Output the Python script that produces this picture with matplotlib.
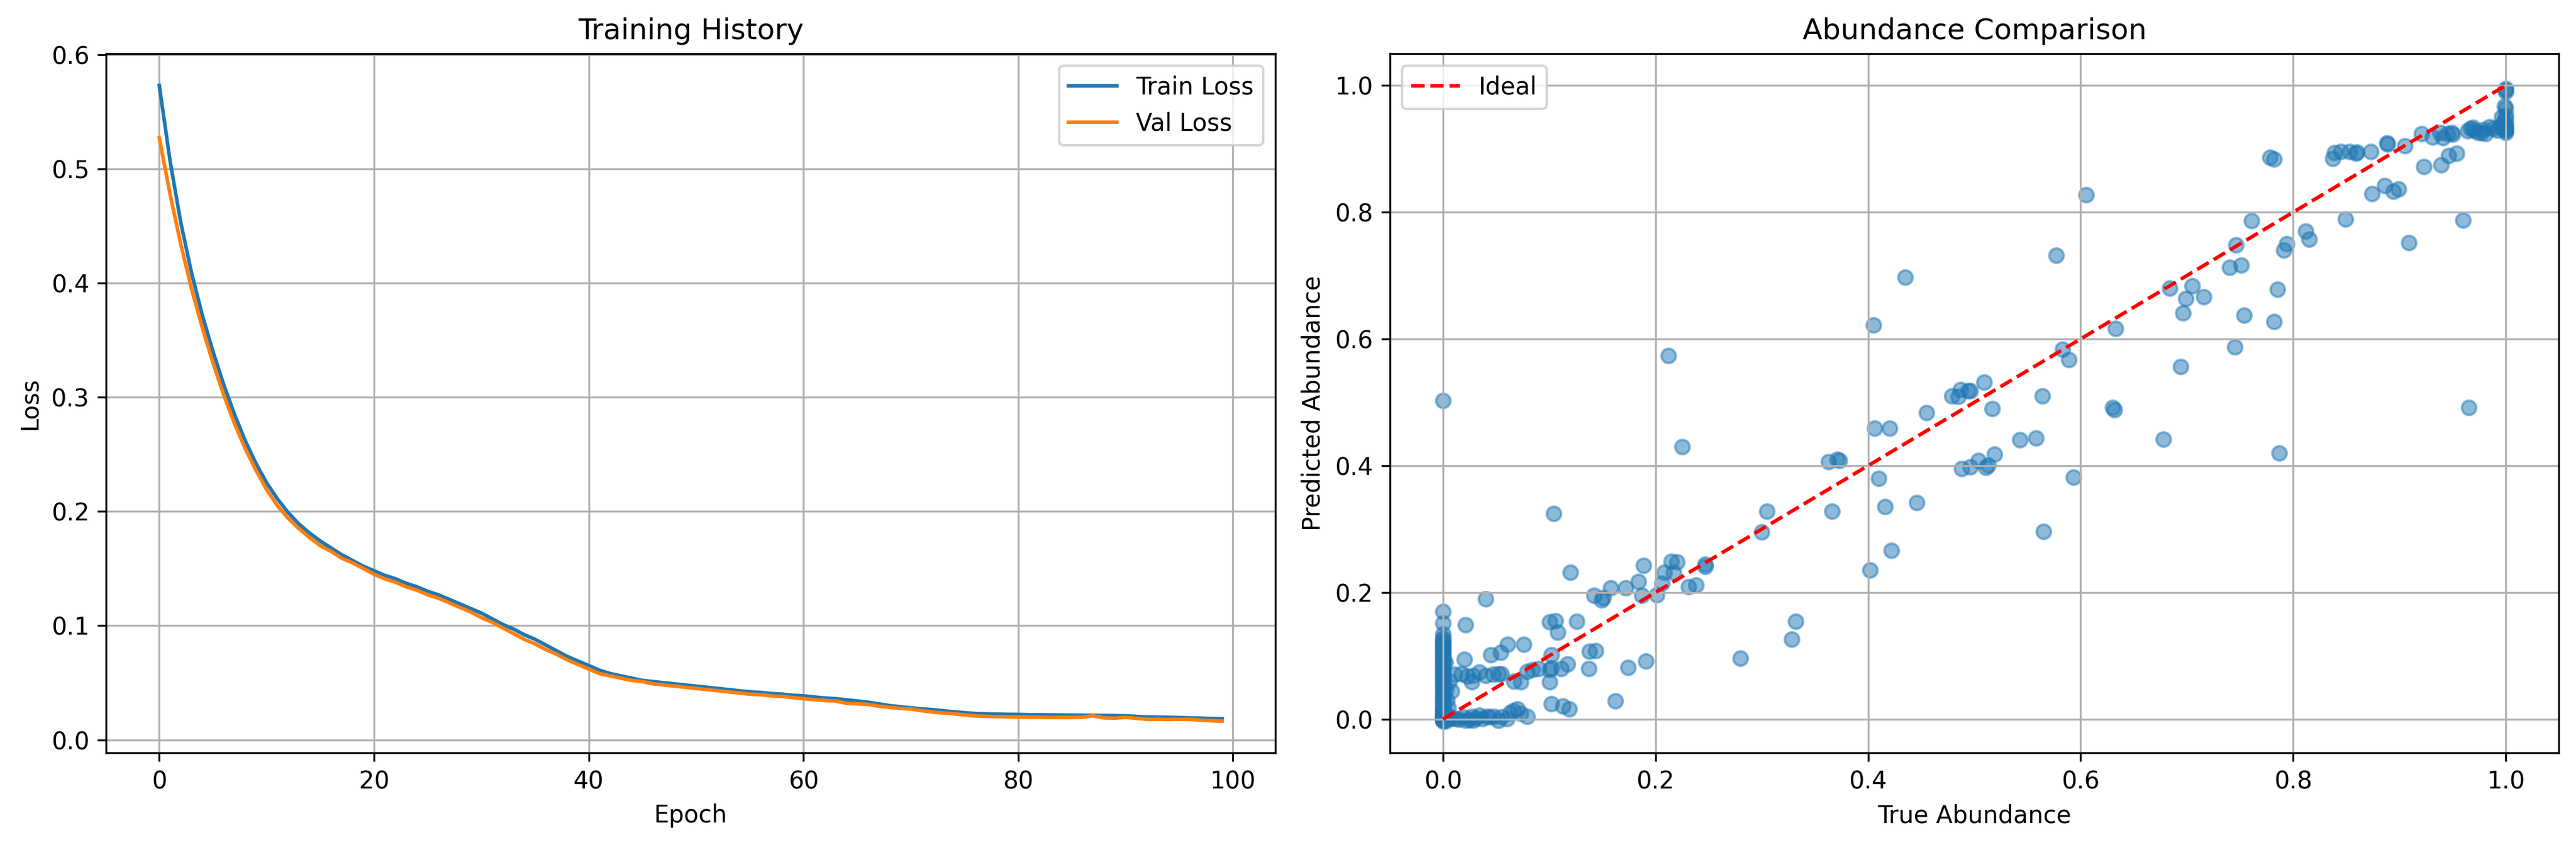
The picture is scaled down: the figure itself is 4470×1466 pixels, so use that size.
import matplotlib
matplotlib.use("Agg")
import matplotlib.pyplot as plt

# loss per epoch
train_loss = [
    0.573, 0.507, 0.453, 0.409, 0.372, 0.340, 0.311, 0.285, 0.262, 0.242,
    0.225, 0.211, 0.199, 0.189, 0.181, 0.174, 0.168, 0.162, 0.157, 0.152,
    0.148, 0.144, 0.141, 0.137, 0.134, 0.130, 0.127, 0.123, 0.119, 0.115,
    0.111, 0.106, 0.101, 0.097, 0.092, 0.088, 0.083, 0.078, 0.073, 0.069,
    0.065, 0.061, 0.058, 0.056, 0.054, 0.052, 0.051, 0.050, 0.049, 0.048,
    0.047, 0.046, 0.045, 0.044, 0.043, 0.042, 0.0415, 0.0405, 0.040, 0.039,
    0.0385, 0.0375, 0.0366, 0.036, 0.035, 0.034, 0.033, 0.0315, 0.030, 0.029,
    0.028, 0.027, 0.0265, 0.0255, 0.0245, 0.0238, 0.023, 0.0227, 0.0225, 0.0223,
    0.0222, 0.022, 0.0219, 0.0218, 0.0217, 0.0216, 0.0215, 0.0214, 0.0213, 0.0212,
    0.021, 0.0205, 0.020, 0.0198, 0.0197, 0.0195, 0.0192, 0.019, 0.0186, 0.0184,
]
val_loss = [
    0.527, 0.478, 0.434, 0.395, 0.361, 0.330, 0.302, 0.277, 0.255, 0.236,
    0.219, 0.205, 0.194, 0.185, 0.177, 0.170, 0.165, 0.159, 0.155, 0.150,
    0.145, 0.141, 0.138, 0.134, 0.131, 0.127, 0.124, 0.120, 0.116, 0.112,
    0.107, 0.103, 0.098, 0.093, 0.088, 0.084, 0.079, 0.075, 0.070, 0.066,
    0.062, 0.058, 0.056, 0.054, 0.052, 0.051, 0.049, 0.048, 0.047, 0.046,
    0.045, 0.044, 0.043, 0.042, 0.041, 0.040, 0.0395, 0.0385, 0.038, 0.037,
    0.036, 0.0352, 0.0344, 0.0340, 0.032, 0.0315, 0.031, 0.0295, 0.0285, 0.0275,
    0.027, 0.0255, 0.0243, 0.0235, 0.0228, 0.0218, 0.0209, 0.0205, 0.0203, 0.0201,
    0.020, 0.0198, 0.0197, 0.0196, 0.0196, 0.0196, 0.0198, 0.021, 0.0192, 0.019,
    0.0197, 0.0188, 0.018, 0.018, 0.0178, 0.018, 0.0179, 0.0172, 0.0167, 0.0164,
]
epochs = list(range(len(train_loss)))

# (true, predicted) abundance pairs
abundance_pairs = [
    # true = 0 column
    (0.0, 0.503), (0.0, 0.170), (0.0, 0.152), (0.0, 0.134), (0.0, 0.128),
    (0.0, 0.122), (0.0, 0.117), (0.0, 0.113), (0.0, 0.108), (0.0, 0.104),
    (0.0, 0.099), (0.0, 0.095), (0.0, 0.090), (0.0, 0.086), (0.0, 0.081),
    (0.0, 0.077), (0.0, 0.072), (0.0, 0.068), (0.0, 0.063), (0.0, 0.059),
    (0.0, 0.054), (0.0, 0.050), (0.0, 0.045), (0.0, 0.040), (0.0, 0.036),
    (0.0, 0.031), (0.0, 0.027), (0.0, 0.022), (0.0, 0.018), (0.0, 0.013),
    (0.0, 0.009), (0.0, 0.004), (0.0, 0.000), (0.0, -0.003), (0.0, 0.002),
    (0.0, 0.006), (0.0, 0.011), (0.0, 0.015), (0.0, 0.025), (0.0, 0.035),
    (0.0, 0.047), (0.0, 0.057), (0.0, 0.066), (0.0, 0.075), (0.0, 0.084),
    (0.0, 0.093), (0.0, 0.102), (0.0, 0.110), (0.0, 0.119), (0.0, 0.125),
    (0.0, 0.001), (0.0, 0.003), (0.0, -0.002), (0.0, 0.005), (0.0, 0.000),
    (0.003, 0.046), (0.008, 0.044), (0.005, 0.019), (0.004, 0.030), (0.006, 0.060),
    (0.002, 0.090), (0.004, 0.008), (0.006, 0.002), (0.003, -0.003),
    # near-zero predictions
    (0.012, 0.001), (0.015, 0.000), (0.019, 0.003), (0.022, -0.002), (0.027, 0.004),
    (0.028, -0.002), (0.031, 0.002), (0.034, 0.006), (0.037, 0.001), (0.041, 0.004),
    (0.044, 0.003), (0.048, 0.004), (0.052, -0.002), (0.055, 0.003), (0.063, 0.010),
    (0.066, 0.013), (0.070, 0.016), (0.073, 0.009), (0.079, 0.004), (0.060, 0.001),
    (0.025, 0.000), (0.009, 0.002),
    # band around 0.07
    (0.011, 0.071), (0.0175, 0.072), (0.023, 0.068), (0.028, 0.069), (0.034, 0.074),
    (0.040, 0.069), (0.047, 0.071), (0.052, 0.072), (0.055, 0.072), (0.027, 0.059),
    (0.067, 0.060), (0.073, 0.059), (0.079, 0.075), (0.084, 0.078), (0.090, 0.080),
    (0.1005, 0.078), (0.102, 0.081), (0.111, 0.080), (0.117, 0.087), (0.1005, 0.059),
    (0.137, 0.080), (0.138, 0.107), (0.102, 0.102), (0.020, 0.094), (0.045, 0.102),
    (0.054, 0.105), (0.061, 0.118), (0.076, 0.118), (0.1005, 0.153), (0.106, 0.155),
    (0.108, 0.137), (0.126, 0.154), (0.021, 0.149), (0.040, 0.190), (0.102, 0.024),
    (0.113, 0.021), (0.119, 0.016), (0.144, 0.108), (0.191, 0.092), (0.174, 0.082),
    (0.162, 0.029),
    # 0.1 - 0.35
    (0.104, 0.324), (0.120, 0.232), (0.189, 0.243), (0.215, 0.249), (0.220, 0.248),
    (0.208, 0.232), (0.217, 0.232), (0.247, 0.244), (0.247, 0.241), (0.206, 0.214),
    (0.184, 0.217), (0.172, 0.207), (0.158, 0.207), (0.142, 0.195), (0.151, 0.192),
    (0.149, 0.188), (0.187, 0.195), (0.201, 0.196), (0.231, 0.209), (0.238, 0.212),
    (0.225, 0.430), (0.212, 0.574), (0.305, 0.328), (0.300, 0.295), (0.332, 0.154),
    (0.328, 0.126), (0.280, 0.096),
    # 0.35 - 0.56
    (0.363, 0.406), (0.371, 0.410), (0.373, 0.408), (0.366, 0.328), (0.410, 0.380),
    (0.416, 0.335), (0.446, 0.342), (0.422, 0.266), (0.402, 0.235), (0.406, 0.459),
    (0.420, 0.459), (0.455, 0.484), (0.405, 0.622), (0.435, 0.697), (0.479, 0.510),
    (0.485, 0.509), (0.487, 0.520), (0.494, 0.518), (0.496, 0.518), (0.509, 0.532),
    (0.517, 0.490), (0.488, 0.395), (0.496, 0.398), (0.504, 0.408), (0.511, 0.397),
    (0.513, 0.401), (0.519, 0.418), (0.543, 0.441), (0.558, 0.444),
    # 0.56 - 0.85
    (0.564, 0.510), (0.583, 0.584), (0.589, 0.567), (0.630, 0.492), (0.632, 0.488),
    (0.633, 0.616), (0.605, 0.827), (0.577, 0.732), (0.694, 0.556), (0.684, 0.680),
    (0.705, 0.684), (0.699, 0.664), (0.716, 0.666), (0.696, 0.641), (0.745, 0.587),
    (0.754, 0.637), (0.782, 0.627), (0.785, 0.678), (0.740, 0.713), (0.751, 0.716),
    (0.746, 0.748), (0.761, 0.786), (0.791, 0.740), (0.794, 0.750), (0.812, 0.770),
    (0.815, 0.757), (0.849, 0.789), (0.909, 0.752), (0.960, 0.787), (0.965, 0.492),
    (0.778, 0.886), (0.782, 0.884), (0.593, 0.382), (0.565, 0.296), (0.678, 0.442),
    (0.787, 0.420),
    # 0.83 - 1.0
    (0.874, 0.829), (0.886, 0.842), (0.894, 0.833), (0.899, 0.836), (0.923, 0.872),
    (0.939, 0.875), (0.946, 0.889), (0.954, 0.893), (0.8375, 0.885), (0.839, 0.894),
    (0.845, 0.896), (0.853, 0.896), (0.859, 0.893), (0.860, 0.895), (0.873, 0.896),
    (0.888, 0.909), (0.889, 0.907), (0.905, 0.905), (0.921, 0.924), (0.931, 0.918),
    (0.938, 0.926), (0.941, 0.917), (0.945, 0.924), (0.949, 0.926), (0.950, 0.923),
    (0.964, 0.928), (0.967, 0.932), (0.970, 0.929), (0.974, 0.926), (0.977, 0.926),
    (0.981, 0.924), (0.985, 0.935), (0.988, 0.932), (0.992, 0.929), (0.994, 0.935),
    (0.997, 0.935), (0.969, 0.934), (0.979, 0.930),
    # true = 1 column
    (1.0, 0.995), (1.0, 0.993), (1.0, 0.990), (0.999, 0.967), (1.0, 0.964),
    (0.996, 0.950), (1.0, 0.953), (1.0, 0.947), (1.0, 0.940), (1.0, 0.936),
    (1.0, 0.932), (1.0, 0.928), (0.998, 0.943), (1.0, 0.930), (1.0, 0.926),
]
true_abundance = [p[0] for p in abundance_pairs]
pred_abundance = [p[1] for p in abundance_pairs]

fig, (ax1, ax2) = plt.subplots(1, 2, figsize=(15, 5))

ax1.plot(epochs, train_loss, label="Train Loss")
ax1.plot(epochs, val_loss, label="Val Loss")
ax1.set_title("Training History")
ax1.set_xlabel("Epoch")
ax1.set_ylabel("Loss")
ax1.legend()
ax1.grid(True)

ax2.scatter(true_abundance, pred_abundance, alpha=0.5)
ax2.plot([0, 1], [0, 1], "r--", label="Ideal")
ax2.set_title("Abundance Comparison")
ax2.set_xlabel("True Abundance")
ax2.set_ylabel("Predicted Abundance")
ax2.legend()
ax2.grid(True)

plt.tight_layout()
plt.savefig("out.png", dpi=300, bbox_inches="tight")
plt.close(fig)
